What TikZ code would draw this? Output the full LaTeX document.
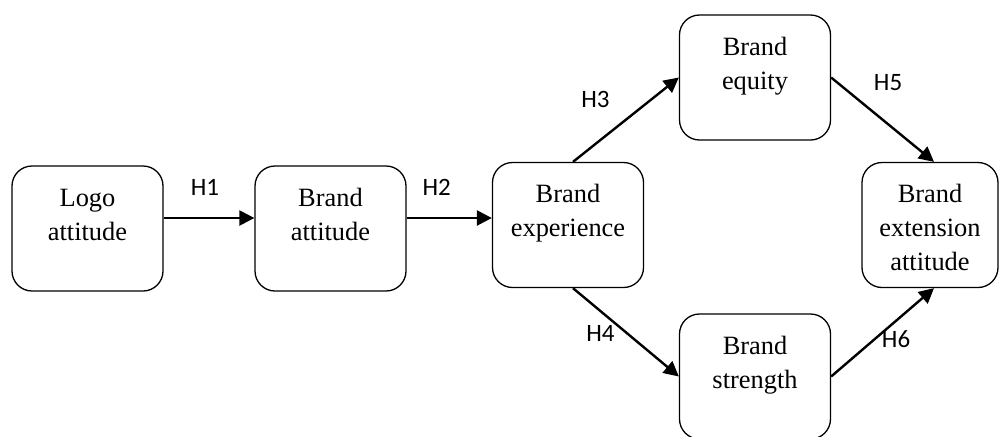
\documentclass[tikz,border=0pt]{standalone}
\usepackage{fontspec}
\setmainfont{Liberation Serif}
\newfontfamily\hypfont{Carlito}
\usetikzlibrary{arrows.meta}

% text sits at the top of each box
\newcommand{\boxtext}[1]{\parbox[c][62.5pt][t]{66pt}{\centering\rule{0pt}{20pt}#1\par}}

\tikzset{
  box/.style={rectangle, rounded corners=10pt, draw=black, line width=0.65pt,
              minimum width=75.5pt, minimum height=62.5pt, inner sep=0pt,
              font=\fontsize{13.2}{17}\selectfont},
  hyp/.style={font=\hypfont\fontsize{12.5}{14}\selectfont, inner sep=0pt}
}

\begin{document}
\begin{tikzpicture}[node distance = 121.5pt, line width = 1.2pt,
                    >={Triangle[length=7.5pt, width=7.5pt]}]
  \useasboundingbox (-43.75pt,114.25pt) rectangle (455.75pt,-103.75pt);

  \node[box] (logo) {\boxtext{Logo\\attitude}};
  \node[box, right of = logo] (brandatt) {\boxtext{Brand\\attitude}};
  \node[box, right of = brandatt, node distance = 118.75pt, yshift = 1.75pt]
  (exp) {\boxtext{Brand\\experience}};

  \node[box, right of = exp, node distance = 93.5pt, yshift = 73.75pt]
  (equity) {\boxtext{Brand\\equity}};
  \node[box, right of = exp, node distance = 93.5pt, yshift = -75.75pt]
  (strength) {\boxtext{Brand\\strength}};

  \node[box, minimum width = 68pt, right of = exp, node distance = 181pt]
  (ext) {\boxtext{Brand\\extension\\attitude}};

  \draw[->] ([yshift=5.25pt]logo.east) -- node[hyp, xshift=-2pt, yshift=15.5pt] {H1}
  ([yshift=5.25pt]brandatt.west);
  \draw[->] ([yshift=5.25pt]brandatt.east) -- node[hyp, xshift=-6.25pt, yshift=15.5pt] {H2}
  ([yshift=3.5pt]exp.west);

  \draw[->] ([xshift=2.5pt]exp.north) -- node[hyp, xshift=-15.25pt, yshift=10.25pt] {H3}
  (equity.west);
  \draw[->] ([xshift=2.5pt]exp.south) -- node[hyp, xshift=-12.75pt, yshift=-0.5pt] {H4}
  (strength.west);

  \draw[->] (equity.east) -- node[hyp, xshift=2.75pt, yshift=18.75pt] {H5}
  ([xshift=2pt]ext.north);
  \draw[->] (strength.east) -- node[hyp, xshift=6.75pt, yshift=-3.5pt] {H6}
  ([xshift=2pt]ext.south);

\end{tikzpicture}
\end{document}
